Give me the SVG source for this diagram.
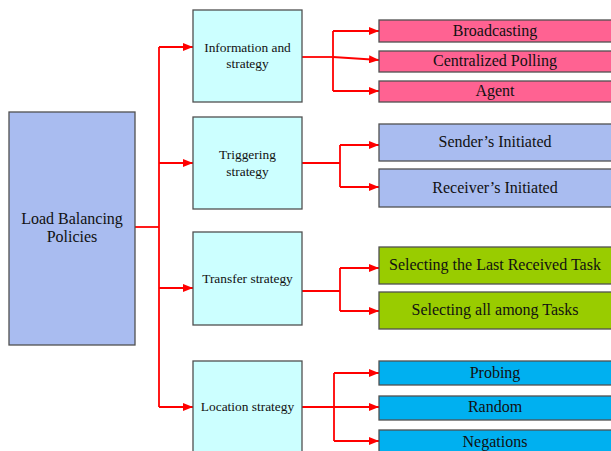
<svg xmlns="http://www.w3.org/2000/svg" width="611" height="451" viewBox="0 0 611 451">
<defs>
<style>
text{font-family:"Liberation Serif","Times New Roman",serif;fill:#111;text-anchor:middle;}
.main{fill:#a9bcf0;stroke:#505050;stroke-width:1.3;}
.mid{fill:#ccffff;stroke:#505050;stroke-width:1.3;}
.pink{fill:#ff6292;stroke:#505050;stroke-width:1.3;}
.peri{fill:#a9bcf0;stroke:#505050;stroke-width:1.3;}
.green{fill:#99cc00;stroke:#505050;stroke-width:1.3;}
.blue{fill:#00b0f0;stroke:#505050;stroke-width:1.3;}
.t15{font-size:16px;}
.t16{font-size:16px;}
.t12{font-size:13.4px;}
.c{fill:none;stroke:#ff0000;stroke-width:1.8;}
</style>
<marker id="ah" viewBox="0 0 10 8" refX="10" refY="4" markerWidth="10" markerHeight="8" markerUnits="userSpaceOnUse" orient="auto">
<path d="M0,0 L10,4 L0,8 Z" fill="#ff0000"/>
</marker>
</defs>
<rect width="611" height="451" fill="#ffffff"/>

<g id="connectors">
<path class="c" d="M135,227 H159"/>
<path class="c" d="M159,47 V407"/>
<path class="c" d="M159,47 H193" marker-end="url(#ah)"/>
<path class="c" d="M159,163 H193" marker-end="url(#ah)"/>
<path class="c" d="M159,288 H193" marker-end="url(#ah)"/>
<path class="c" d="M159,407 H193" marker-end="url(#ah)"/>

<path class="c" d="M302,57 H333"/>
<path class="c" d="M333,31 V91"/>
<path class="c" d="M333,31 H379" marker-end="url(#ah)"/>
<path class="c" d="M333,57 L379,60" marker-end="url(#ah)"/>
<path class="c" d="M333,91 H379" marker-end="url(#ah)"/>

<path class="c" d="M302,163 H340"/>
<path class="c" d="M340,145 V187"/>
<path class="c" d="M340,145 H379" marker-end="url(#ah)"/>
<path class="c" d="M340,187 H379" marker-end="url(#ah)"/>

<path class="c" d="M302,291 H340"/>
<path class="c" d="M340,268 V311"/>
<path class="c" d="M340,268 H379" marker-end="url(#ah)"/>
<path class="c" d="M340,311 H379" marker-end="url(#ah)"/>

<path class="c" d="M302,407 H379" marker-end="url(#ah)"/>
<path class="c" d="M334,373 V441"/>
<path class="c" d="M334,373 H379" marker-end="url(#ah)"/>
<path class="c" d="M334,441 H379" marker-end="url(#ah)"/>
</g>

<g id="load-balancing">
<rect class="main" x="9" y="112" width="126" height="233"/>
<text class="t16" x="72" y="224">Load Balancing</text>
<text class="t16" x="72" y="242">Policies</text>
</g>

<g id="information">
<rect class="mid" x="193" y="10" width="109" height="92"/>
<text class="t12" x="247.5" y="52">Information and</text>
<text class="t12" x="247.5" y="68">strategy</text>
</g>
<g id="triggering">
<rect class="mid" x="193" y="117" width="109" height="92"/>
<text class="t12" x="247.5" y="159">Triggering</text>
<text class="t12" x="247.5" y="176">strategy</text>
</g>
<g id="transfer">
<rect class="mid" x="193" y="232" width="109" height="93"/>
<text class="t12" x="247.5" y="283">Transfer strategy</text>
</g>
<g id="location">
<rect class="mid" x="193" y="361" width="109" height="100"/>
<text class="t12" x="247.5" y="411">Location strategy</text>
</g>

<g id="broadcasting">
<rect class="pink" x="379" y="20" width="240" height="22"/>
<text class="t15" x="495" y="36">Broadcasting</text>
</g>
<g id="centralized-polling">
<rect class="pink" x="379" y="51" width="240" height="21"/>
<text class="t15" x="495" y="66">Centralized Polling</text>
</g>
<g id="agent">
<rect class="pink" x="379" y="81" width="240" height="21"/>
<text class="t15" x="495" y="96">Agent</text>
</g>

<g id="senders-initiated">
<rect class="peri" x="379" y="124" width="240" height="37"/>
<text class="t15" x="495" y="147">Sender’s Initiated</text>
</g>
<g id="receivers-initiated">
<rect class="peri" x="379" y="169" width="240" height="38"/>
<text class="t15" x="495" y="193">Receiver’s Initiated</text>
</g>

<g id="selecting-last">
<rect class="green" x="379" y="247" width="240" height="37"/>
<text class="t15" x="495" y="270">Selecting the Last Received Task</text>
</g>
<g id="selecting-all">
<rect class="green" x="379" y="292" width="240" height="37"/>
<text class="t15" x="495" y="315">Selecting all among Tasks</text>
</g>

<g id="probing">
<rect class="blue" x="379" y="361" width="240" height="24"/>
<text class="t15" x="495" y="378">Probing</text>
</g>
<g id="random">
<rect class="blue" x="379" y="396" width="240" height="24"/>
<text class="t15" x="495" y="412">Random</text>
</g>
<g id="negations">
<rect class="blue" x="379" y="430" width="240" height="30"/>
<text class="t15" x="495" y="447">Negations</text>
</g>
</svg>
